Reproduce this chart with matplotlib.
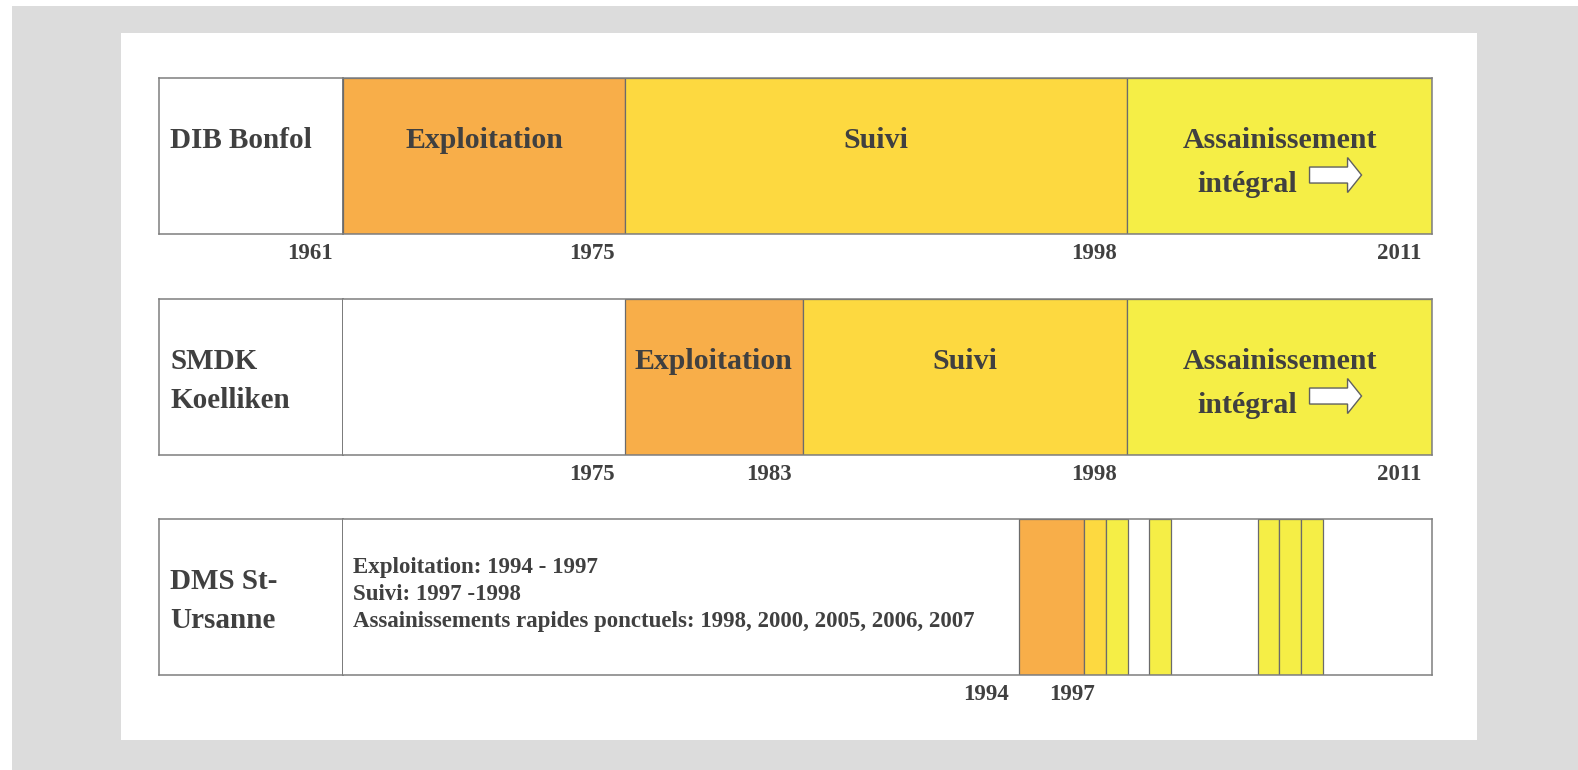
import numpy as np
import matplotlib
matplotlib.use('Agg')
import matplotlib.pyplot as plt
from matplotlib.patches import Rectangle, FancyArrow

# --- data -------------------------------------------------------------------
SITE_NAMES = [['DIB Bonfol'], ['SMDK', 'Koelliken'], ['DMS St-', 'Ursanne']]

# DIB Bonfol
BONFOL_START = [1961, 1975, 1998]
BONFOL_END = [1975, 1998, 2011]
BONFOL_PHASE = ['exploit', 'suivi', 'assain']
BONFOL_TICKS = [1961, 1975, 1998, 2011]

# SMDK Koelliken
KOELL_START = [1975, 1983, 1998]
KOELL_END = [1983, 1998, 2011]
KOELL_PHASE = ['exploit', 'suivi', 'assain']
KOELL_TICKS = [1975, 1983, 1998, 2011]

# DMS St-Ursanne
URS_EXPLOIT = (1994, 1997)
URS_SUIVI = (1997, 1998)
URS_ASSAIN_YEARS = [1998, 2000, 2005, 2006, 2007]
URS_TICK_POS = [1994, 1998]
URS_TICK_LABELS = ['1994', '1997']
URS_NOTES = ['Exploitation: 1994 - 1997',
             'Suivi: 1997 -1998',
             'Assainissements rapides ponctuels: 1998, 2000, 2005, 2006, 2007']

PHASE_LABEL = {'exploit': ['Exploitation'], 'suivi': ['Suivi'],
               'assain': ['Assainissement', 'intégral']}
PHASE_COLOR = {'exploit': '#f8ae49', 'suivi': '#fdd940', 'assain': '#f5ee46'}

# schematic (non-linear) time axis used by the two top rows
SCHEMA_YEARS = [1961, 1975, 1983, 1998, 2011]
SCHEMA_POS = [0.0, 0.259, 0.422, 0.720, 1.0]

TXT = '#404040'
EDGE = '#6b6b6b'
SPINE = '#7f7f7f'
plt.rcParams['font.family'] = ['Liberation Serif', 'DejaVu Serif']
plt.rcParams['font.weight'] = 'bold'

W, H = 1578, 770
fig = plt.figure(figsize=(W / 100, H / 100), dpi=100, facecolor='white')
fig.add_artist(Rectangle((12 / W, 0), 1, 1 - 6 / H, transform=fig.transFigure,
                         facecolor='#dcdcdc', edgecolor='none', zorder=-10))
fig.add_artist(Rectangle((121 / W, 30 / H), (1477 - 121) / W, (740 - 33) / H,
                         transform=fig.transFigure, facecolor='white',
                         edgecolor='none', zorder=-9))

ROW_TOP = [78, 299, 519]
ROW_H = 156
LBL_X0, TL_X0, TL_X1 = 159, 343, 1432


def fwd(x):
    return np.interp(x, SCHEMA_YEARS, SCHEMA_POS)


def inv(p):
    return np.interp(p, SCHEMA_POS, SCHEMA_YEARS)


def no_ticks(a):
    a.set_xticks([]); a.set_yticks([])
    a.set_xticks([], minor=True); a.set_yticks([], minor=True)


def make_row(i):
    bottom = 1 - (ROW_TOP[i] + ROW_H) / H
    axl = fig.add_axes([LBL_X0 / W, bottom, (TL_X0 - LBL_X0) / W, ROW_H / H])
    ax = fig.add_axes([TL_X0 / W, bottom, (TL_X1 - TL_X0) / W, ROW_H / H])
    for a in (axl, ax):
        no_ticks(a)
        for s in a.spines.values():
            s.set_color(SPINE); s.set_linewidth(1.1)
    axl.spines['right'].set_color('#555555')
    ax.spines['left'].set_visible(False)
    ax.set_ylim(-0.5, 0.5)
    for k, line in enumerate(SITE_NAMES[i]):
        axl.text(0.06, 0.551 - k * 0.25, line, transform=axl.transAxes,
                 fontsize=21, color=TXT, ha='left', va='baseline')
    return ax


def year_labels(ax, pos, labels):
    for p, lab in zip(pos, labels):
        ax.annotate(lab, xy=(p, 0), xycoords=('data', 'axes fraction'),
                    xytext=(-7.6, -6.5), textcoords='offset points',
                    ha='right', va='top', fontsize=16.5, color=TXT,
                    annotation_clip=False)


def schematic_row(i, starts, ends, phases, ticks):
    ax = make_row(i)
    ax.set_xscale('function', functions=(fwd, inv))
    ax.set_xlim(SCHEMA_YEARS[0], SCHEMA_YEARS[-1])
    no_ticks(ax)
    for s, e, ph in zip(starts, ends, phases):
        ax.barh(0, e - s, left=s, height=1, color=PHASE_COLOR[ph],
                edgecolor=EDGE, linewidth=0.9)
        cx = (fwd(s) + fwd(e)) / 2
        lines = PHASE_LABEL[ph]
        ax.text(cx, 0.551, lines[0], transform=ax.transAxes, fontsize=21.5,
                color=TXT, ha='center', va='baseline')
        if len(lines) > 1:
            ax.text(cx - 32 / 1089, 0.269, lines[1], transform=ax.transAxes,
                    fontsize=21.5, color=TXT, ha='center', va='baseline')
            ax.add_patch(FancyArrow(cx + 30 / 1089, 0.378, 52 / 1089, 0,
                                    width=16 / ROW_H, head_width=35 / ROW_H,
                                    head_length=14 / 1089,
                                    length_includes_head=True,
                                    transform=ax.transAxes, facecolor='white',
                                    edgecolor='#606060', linewidth=1.0))
    year_labels(ax, ticks, [str(t) for t in ticks])


schematic_row(0, BONFOL_START, BONFOL_END, BONFOL_PHASE, BONFOL_TICKS)
schematic_row(1, KOELL_START, KOELL_END, KOELL_PHASE, KOELL_TICKS)

# St-Ursanne: linear years
ax = make_row(2)
ax.set_xlim(1962.85, 2013.03)
ax.barh(0, URS_EXPLOIT[1] - URS_EXPLOIT[0], left=URS_EXPLOIT[0], height=1,
        color=PHASE_COLOR['exploit'], edgecolor=EDGE, linewidth=0.9)
ax.barh(0, URS_SUIVI[1] - URS_SUIVI[0], left=URS_SUIVI[0], height=1,
        color=PHASE_COLOR['suivi'], edgecolor=EDGE, linewidth=0.9)
ax.barh([0] * len(URS_ASSAIN_YEARS), 1, left=URS_ASSAIN_YEARS, height=1,
        color=PHASE_COLOR['assain'], edgecolor=EDGE, linewidth=0.9)
for k, line in enumerate(URS_NOTES):
    ax.text(0.0092, 0.654 - k * 0.173, line, transform=ax.transAxes,
            fontsize=16.5, color=TXT, ha='left', va='baseline')
year_labels(ax, URS_TICK_POS, URS_TICK_LABELS)

fig.savefig('out.png', dpi=100, facecolor=fig.get_facecolor())
